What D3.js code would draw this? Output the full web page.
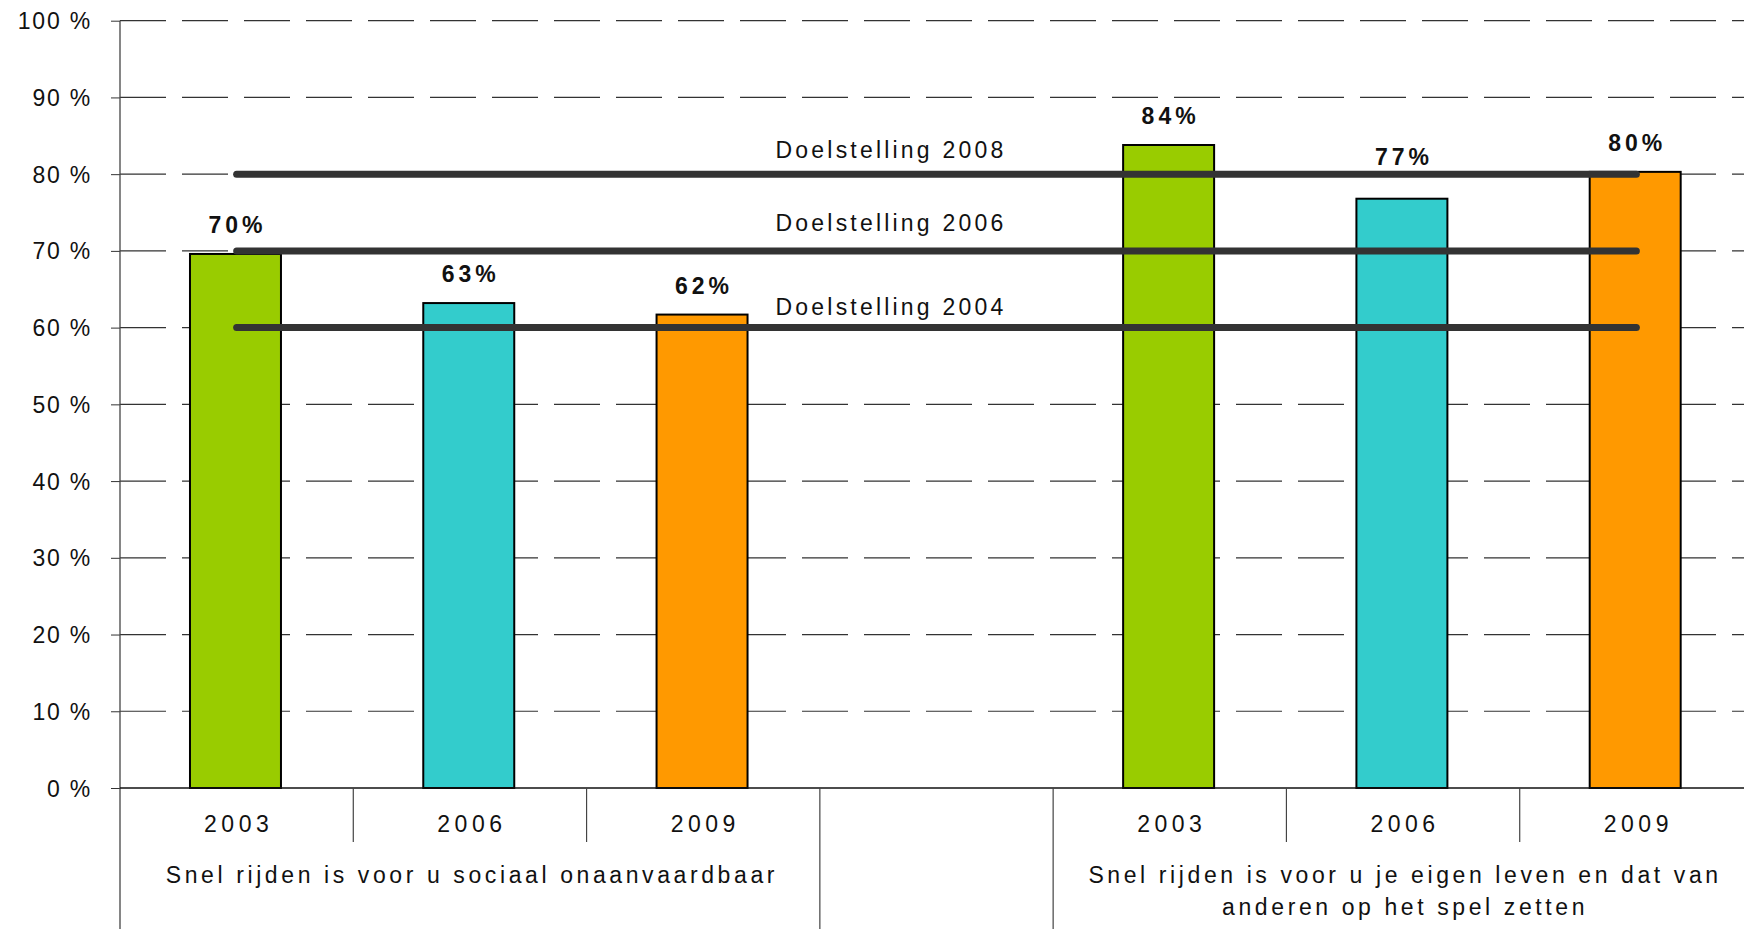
<!DOCTYPE html>
<html>
<head>
<meta charset="utf-8">
<script src="https://cdn.jsdelivr.net/npm/d3@7"></script>
<style>
  body { margin: 0; background: #fff; }
  svg { display: block; font-family: "Liberation Sans", Arial, sans-serif; }
</style>
</head>
<body>
<script>
// categories and values
var years = ['2003', '2006', '2009'];
var groupNames = [
  'Snel rijden is voor u sociaal onaanvaardbaar',
  '',
  'Snel rijden is voor u je eigen leven en dat van anderen op het spel zetten'
];
var groupLines = [
  ['Snel rijden is voor u sociaal onaanvaardbaar'],
  [],
  ['Snel rijden is voor u je eigen leven en dat van', 'anderen op het spel zetten']
];
var sociaal = [69.6, 63.2, 61.7];
var eigenLeven = [83.8, 76.8, 80.3];
var goalLabels = ['Doelstelling 2008', 'Doelstelling 2006', 'Doelstelling 2004'];
var goalValues = [80, 70, 60];
var yTicks = [0, 10, 20, 30, 40, 50, 60, 70, 80, 90, 100];
var colors = ['#99CC00', '#33CCCC', '#FF9900'];

var width = 1744;
var height = 929;

// slot 0-2 = group 1, slot 3 = empty, slot 4-6 = group 2
var bars = [];
sociaal.forEach(function(v, i) {
  bars.push({slot: i, year: years[i], value: v, color: colors[i]});
});
eigenLeven.forEach(function(v, i) {
  bars.push({slot: i + 4, year: years[i], value: v, color: colors[i]});
});

var x = d3.scaleBand()
          .domain(d3.range(7))
          .range([120, 1753]);

var y = d3.scaleLinear()
          .domain([0, 100])
          .range([788, 20.7]);

var svg = d3.select('body')
            .append('svg')
            .attr('width', width)
            .attr('height', height);

// dashed gridlines
svg.selectAll('.grid')
   .data(yTicks.slice(1))
   .enter()
   .append('line')
   .attr('x1', 120)
   .attr('x2', width)
   .attr('y1', function(d) { return y(d); })
   .attr('y2', function(d) { return y(d); })
   .attr('stroke', '#333')
   .attr('stroke-width', 1.2)
   .attr('stroke-dasharray', '46,16');

// y axis
var yAxis = d3.axisLeft(y)
              .tickValues(yTicks)
              .tickSize(9)
              .tickFormat(function(d) { return d + ' %'; });

var ya = svg.append('g')
            .attr('transform', 'translate(120,0)')
            .call(yAxis);
ya.select('.domain').remove();
ya.selectAll('.tick line').attr('stroke', '#333');
ya.selectAll('.tick text')
  .attr('x', -28)
  .attr('dy', '0.35em')
  .attr('font-size', 23)
  .attr('letter-spacing', 1.8)
  .attr('fill', '#111')
  .style('font-family', '"Liberation Sans", Arial, sans-serif');

svg.append('line')
   .attr('x1', 120).attr('x2', 120)
   .attr('y1', y(100)).attr('y2', height)
   .attr('stroke', '#444').attr('stroke-width', 1.3);

// bars
svg.selectAll('.bar')
   .data(bars)
   .enter()
   .append('rect')
   .attr('x', function(d) { return x(d.slot) + x.bandwidth() * 0.3; })
   .attr('width', x.bandwidth() * 0.39)
   .attr('y', function(d) { return y(d.value); })
   .attr('height', function(d) { return y(0) - y(d.value); })
   .attr('fill', function(d) { return d.color; })
   .attr('stroke', '#000')
   .attr('stroke-width', 2);

// goal lines
var xStart = x(0) + x.bandwidth() / 2;
var xEnd = x(6) + x.bandwidth() / 2;
var goalLift = [16, 20, 13];

svg.selectAll('.goal')
   .data(goalValues)
   .enter()
   .append('line')
   .attr('x1', xStart)
   .attr('x2', xEnd)
   .attr('y1', function(d) { return y(d); })
   .attr('y2', function(d) { return y(d); })
   .attr('stroke', '#333')
   .attr('stroke-width', 7)
   .attr('stroke-linecap', 'round');

svg.selectAll('.goalLabel')
   .data(goalValues)
   .enter()
   .append('text')
   .attr('x', x(2) + x.bandwidth() * 0.81)
   .attr('y', function(d, i) { return y(d) - goalLift[i]; })
   .attr('font-size', 23)
   .attr('letter-spacing', 3.2)
   .attr('fill', '#111')
   .text(function(d, i) { return goalLabels[i]; });

// value labels
svg.selectAll('.valueLabel')
   .data(bars)
   .enter()
   .append('text')
   .attr('x', function(d) { return x(d.slot) + x.bandwidth() * 0.495 + 2; })
   .attr('y', function(d, i) { return y(d.value) - (i === 4 ? 34 : 21); })
   .attr('text-anchor', 'middle')
   .attr('font-size', 23)
   .attr('font-weight', 'bold')
   .attr('letter-spacing', 4)
   .attr('fill', '#111')
   .text(function(d) { return Math.round(d.value) + '%'; });

// x axis line
svg.append('line')
   .attr('x1', 120).attr('x2', width)
   .attr('y1', y(0)).attr('y2', y(0))
   .attr('stroke', '#111').attr('stroke-width', 1.5);

// year labels and short dividers
svg.selectAll('.year')
   .data(bars)
   .enter()
   .append('text')
   .attr('x', function(d) { return x(d.slot) + x.bandwidth() / 2 + 2; })
   .attr('y', 832)
   .attr('text-anchor', 'middle')
   .attr('font-size', 23)
   .attr('letter-spacing', 4.5)
   .attr('fill', '#111')
   .text(function(d) { return d.year; });

svg.selectAll('.shortDiv')
   .data([1, 2, 5, 6])
   .enter()
   .append('line')
   .attr('x1', function(d) { return x(d); })
   .attr('x2', function(d) { return x(d); })
   .attr('y1', y(0))
   .attr('y2', 842)
   .attr('stroke', '#444')
   .attr('stroke-width', 1.2);

// group dividers and labels
svg.selectAll('.longDiv')
   .data([3, 4])
   .enter()
   .append('line')
   .attr('x1', function(d) { return x(d); })
   .attr('x2', function(d) { return x(d); })
   .attr('y1', y(0))
   .attr('y2', height)
   .attr('stroke', '#444')
   .attr('stroke-width', 1.2);

var groupStart = [0, 3, 4];
var groupSize = [3, 1, 3];

groupLines.forEach(function(lines, g) {
  var cx = x(groupStart[g]) + x.bandwidth() * groupSize[g] / 2 + 2;
  lines.forEach(function(line, k) {
    svg.append('text')
       .attr('x', cx)
       .attr('y', 883 + k * 32)
       .attr('text-anchor', 'middle')
       .attr('font-size', 23)
       .attr('letter-spacing', 3.6)
       .attr('fill', '#111')
       .text(line);
  });
});
</script>
</body>
</html>
